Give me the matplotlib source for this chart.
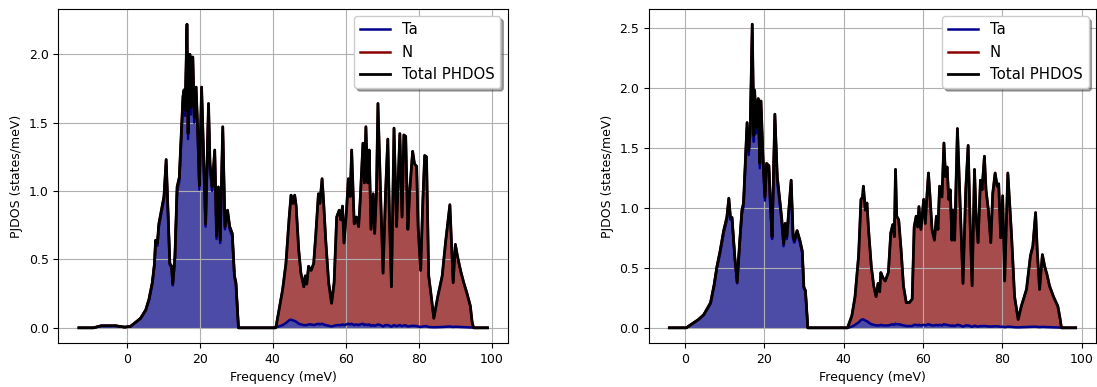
import matplotlib
matplotlib.use("Agg")
import matplotlib.pyplot as plt
import numpy as np

# left panel: frequency (meV), total PHDOS and Ta projection
freq_left = np.array([
    -13.1, -9.1, -7.0, -3.0, -0.6, 1.0, 2.9, 3.8, 5.2, 6.1, 7.0, 7.6, 7.9, 8.4, 8.8, 9.5,
    10.2, 10.8, 11.3, 11.8, 12.3, 12.6, 13.2, 13.8, 14.4, 14.9, 15.4, 15.7, 16.0, 16.5,
    16.8, 17.3, 17.6, 18.1, 18.5, 19.0, 19.5, 19.9, 20.5, 21.0, 21.6, 22.4, 22.8, 23.4,
    24.1, 24.6, 25.1, 25.6, 26.3, 26.9, 27.6, 28.2, 28.9, 29.5, 29.9, 30.6,
    40.7, 40.9, 42.7, 43.6, 44.5, 45.0, 45.5, 46.0, 46.4, 47.1, 47.7, 48.5, 48.9, 49.3,
    49.8, 50.5, 51.2, 51.8, 52.5, 52.9, 53.5, 53.9, 54.5, 55.3, 56.1, 56.8, 57.5, 58.2,
    58.6, 59.1, 59.5, 60.2, 60.7, 61.2, 61.6, 62.3, 62.9, 63.5, 63.9, 64.7, 65.1, 65.5,
    66.0, 66.4, 66.9, 67.5, 67.9, 68.4, 68.8, 69.5, 70.2, 70.9, 71.5, 72.0, 72.5, 73.2,
    73.9, 74.8, 75.4, 75.9, 76.4, 77.0, 77.5, 78.3, 78.8, 79.4, 79.8, 80.5, 81.1, 81.6,
    82.1, 82.7, 83.4, 84.1, 85.2, 86.4, 87.3, 87.9, 88.5, 88.9, 89.4, 90.0, 90.6, 91.5,
    92.3, 93.2, 94.1, 94.6, 95.0, 98.8])
total_left = np.array([
    0.0, 0.0, 0.015, 0.015, 0.005, 0.01, 0.05, 0.07, 0.13, 0.21, 0.33, 0.47, 0.64, 0.62, 0.76, 0.86,
    0.96, 1.23, 0.86, 0.47, 0.45, 0.32, 0.52, 1.03, 1.10, 1.40, 1.69, 1.74, 1.59, 2.22,
    1.42, 2.00, 1.61, 1.98, 1.54, 1.76, 1.40, 1.04, 1.76, 1.30, 0.76, 1.64, 1.20, 1.03,
    1.30, 0.67, 1.03, 0.64, 1.47, 0.74, 0.86, 0.74, 0.69, 0.38, 0.33, 0.0,
    0.0, 0.01, 0.28, 0.47, 0.81, 0.97, 0.91, 0.97, 0.89, 0.57, 0.40, 0.30, 0.38, 0.32,
    0.45, 0.42, 0.47, 0.69, 0.98, 0.91, 1.09, 0.93, 0.64, 0.33, 0.18, 0.33, 0.81, 0.86,
    0.79, 0.89, 0.62, 0.86, 1.09, 0.96, 1.30, 0.76, 0.81, 0.74, 0.91, 1.35, 1.06, 1.47,
    1.06, 1.30, 0.72, 0.98, 0.69, 1.00, 1.64, 1.00, 0.40, 1.00, 1.38, 0.76, 0.30, 1.46,
    0.74, 1.42, 0.81, 1.41, 1.40, 0.72, 1.00, 1.29, 1.20, 1.18, 0.74, 0.42, 0.93, 1.26,
    1.25, 0.38, 0.23, 0.07, 0.23, 0.38, 0.62, 0.76, 0.90, 0.64, 0.33, 0.61, 0.52, 0.41,
    0.33, 0.25, 0.16, 0.04, 0.0, 0.0])
ta_left = np.array([
    0.0, 0.0, 0.014, 0.014, 0.005, 0.01, 0.05, 0.07, 0.13, 0.2, 0.32, 0.46, 0.62, 0.6, 0.74, 0.84,
    0.94, 1.19, 0.84, 0.46, 0.44, 0.31, 0.51, 1.0, 1.07, 1.36, 1.64, 1.69, 1.55, 2.15,
    1.38, 1.94, 1.56, 1.92, 1.5, 1.71, 1.36, 1.01, 1.71, 1.26, 0.74, 1.59, 1.16, 1.0,
    1.26, 0.65, 1.0, 0.62, 1.43, 0.72, 0.84, 0.72, 0.67, 0.37, 0.32, 0.0,
    0.0, 0.003, 0.02, 0.035, 0.055, 0.06, 0.055, 0.05, 0.045, 0.03, 0.025, 0.02, 0.02, 0.02,
    0.025, 0.025, 0.02, 0.025, 0.03, 0.025, 0.03, 0.025, 0.02, 0.015, 0.01, 0.015, 0.02, 0.02,
    0.02, 0.025, 0.02, 0.025, 0.03, 0.025, 0.03, 0.02, 0.025, 0.02, 0.025, 0.03, 0.02, 0.025,
    0.02, 0.025, 0.015, 0.02, 0.015, 0.02, 0.025, 0.02, 0.01, 0.02, 0.02, 0.015, 0.008, 0.02,
    0.012, 0.02, 0.012, 0.018, 0.018, 0.01, 0.012, 0.015, 0.014, 0.013, 0.01, 0.006, 0.01, 0.012,
    0.012, 0.006, 0.005, 0.004, 0.005, 0.006, 0.008, 0.009, 0.01, 0.008, 0.006, 0.008, 0.007, 0.006,
    0.005, 0.004, 0.003, 0.002, 0.0, 0.0])

# right panel
freq_right = np.array([
    -3.9, 0.4, 1.7, 3.5, 4.8, 6.5, 7.4, 8.1, 8.9, 9.8, 10.6, 11.1, 11.5, 11.9, 12.6, 13.2,
    13.8, 14.4, 14.8, 15.3, 15.7, 16.1, 16.5, 17.0, 17.4, 17.6, 18.0, 18.5, 18.9, 19.2,
    19.7, 20.2, 20.6, 21.2, 21.6, 22.0, 22.7, 23.3, 24.0, 24.4, 24.9, 25.3, 25.7, 26.8,
    27.3, 27.6, 28.3, 29.0, 29.6, 30.0, 30.4, 31.0,
    41.0, 42.1, 42.9, 43.8, 44.4, 44.8, 45.0, 45.5, 45.9, 46.3, 47.0, 47.6, 48.2, 48.7,
    49.1, 49.4, 49.9, 50.5, 51.3, 51.9, 52.4, 52.8, 53.1, 53.4, 53.9, 54.5, 55.1, 55.8,
    56.6, 57.3, 57.8, 58.3, 58.7, 59.0, 59.5, 60.2, 60.6, 61.0, 61.4, 61.8, 62.3, 62.9,
    63.4, 63.8, 64.2, 64.8, 65.3, 65.7, 66.1, 66.5, 66.9, 67.3, 67.6, 68.0, 68.7, 69.4,
    70.1, 70.8, 71.4, 71.9, 72.4, 73.0, 73.4, 73.9, 74.5, 74.9, 75.5, 75.9, 76.5, 77.1,
    77.6, 78.2, 78.7, 79.1, 79.6, 80.1, 80.6, 81.4, 82.3, 83.1, 84.0, 84.8, 86.1, 87.1,
    87.7, 88.4, 88.8, 89.4, 90.1, 90.7, 91.3, 91.9, 92.9, 94.0, 94.6, 94.9, 98.5])
total_right = np.array([
    0.0, 0.0, 0.03, 0.07, 0.11, 0.21, 0.36, 0.51, 0.64, 0.81, 0.92, 1.08, 0.92, 0.92, 0.59, 0.38,
    0.70, 0.98, 1.04, 1.42, 1.71, 1.48, 1.67, 2.53, 1.60, 1.98, 1.67, 1.91, 1.37, 1.89,
    1.42, 1.09, 1.37, 1.35, 1.01, 0.76, 1.78, 1.26, 1.04, 0.92, 0.70, 0.87, 0.76, 1.23,
    0.76, 0.73, 0.81, 0.73, 0.64, 0.34, 0.31, 0.0,
    0.0, 0.10, 0.26, 0.60, 1.07, 1.09, 1.18, 0.98, 1.04, 0.82, 0.51, 0.35, 0.26, 0.37,
    0.30, 0.46, 0.42, 0.39, 0.46, 0.79, 0.86, 0.76, 1.32, 0.93, 0.90, 0.65, 0.35, 0.21,
    0.21, 0.24, 0.84, 0.93, 0.84, 1.01, 0.82, 1.07, 0.87, 1.09, 1.29, 1.09, 0.82, 0.73,
    0.93, 0.82, 1.18, 1.09, 1.54, 1.26, 1.34, 1.07, 1.15, 0.73, 0.98, 0.73, 1.66, 1.01,
    0.37, 1.15, 1.52, 0.87, 0.35, 1.32, 0.93, 0.71, 1.23, 1.15, 1.43, 1.15, 0.98, 0.71,
    1.12, 1.29, 1.18, 1.20, 0.75, 1.10, 0.39, 1.29, 0.79, 0.26, 0.07, 0.18, 0.32, 0.60,
    0.68, 0.96, 0.65, 0.32, 0.61, 0.51, 0.44, 0.35, 0.26, 0.18, 0.07, 0.0, 0.0])
ta_right = np.array([
    0.0, 0.0, 0.03, 0.07, 0.11, 0.2, 0.35, 0.5, 0.62, 0.79, 0.9, 1.05, 0.9, 0.9, 0.58, 0.37,
    0.68, 0.95, 1.01, 1.38, 1.66, 1.44, 1.62, 2.45, 1.55, 1.92, 1.62, 1.85, 1.33, 1.83,
    1.38, 1.06, 1.33, 1.31, 0.98, 0.74, 1.73, 1.22, 1.01, 0.89, 0.68, 0.84, 0.74, 1.19,
    0.74, 0.71, 0.79, 0.71, 0.62, 0.33, 0.3, 0.0,
    0.0, 0.01, 0.025, 0.045, 0.065, 0.07, 0.07, 0.06, 0.055, 0.045, 0.03, 0.025, 0.02, 0.02,
    0.02, 0.025, 0.02, 0.02, 0.02, 0.025, 0.03, 0.025, 0.035, 0.03, 0.03, 0.025, 0.02, 0.015,
    0.015, 0.015, 0.025, 0.025, 0.02, 0.025, 0.02, 0.025, 0.02, 0.025, 0.03, 0.025, 0.02, 0.02,
    0.025, 0.02, 0.025, 0.02, 0.03, 0.025, 0.025, 0.02, 0.02, 0.015, 0.02, 0.015, 0.025, 0.02,
    0.01, 0.02, 0.02, 0.015, 0.008, 0.018, 0.014, 0.01, 0.015, 0.014, 0.016, 0.014, 0.012, 0.01,
    0.012, 0.013, 0.012, 0.012, 0.008, 0.01, 0.005, 0.01, 0.008, 0.005, 0.004, 0.005, 0.006, 0.008,
    0.008, 0.01, 0.008, 0.006, 0.008, 0.007, 0.006, 0.005, 0.004, 0.003, 0.002, 0.0, 0.0])

panels = [(freq_left, ta_left, total_left), (freq_right, ta_right, total_right)]

fig = plt.figure(figsize=(10.97, 3.87), dpi=100)
ax1 = fig.add_axes([0.0533, 0.1137, 0.4097, 0.863])
ax2 = fig.add_axes([0.5916, 0.1137, 0.4075, 0.863])

for ax, (freq, ta, total) in zip([ax1, ax2], panels):
    n = total - ta
    # stacked fills: Ta at the bottom, N on top of it
    ax.fill_between(freq, 0, ta, color='navy', alpha=0.7, lw=0)
    ax.fill_between(freq, ta, ta + n, color='maroon', alpha=0.7, lw=0)
    ax.plot(freq, ta, color='darkblue', lw=1.8, label='Ta')
    ax.plot(freq, ta + n, color='darkred', lw=1.8, label='N')
    ax.plot(freq, total, color='k', lw=2, label='Total PHDOS')
    ax.grid(True)
    ax.set_xlabel('Frequency (meV)', fontsize=9)
    ax.set_ylabel('PJDOS (states/meV)', fontsize=9)
    ax.tick_params(labelsize=9)
    ax.legend(loc='upper right', shadow=True, fontsize=10.7)

fig.savefig('out.png', dpi=100)
